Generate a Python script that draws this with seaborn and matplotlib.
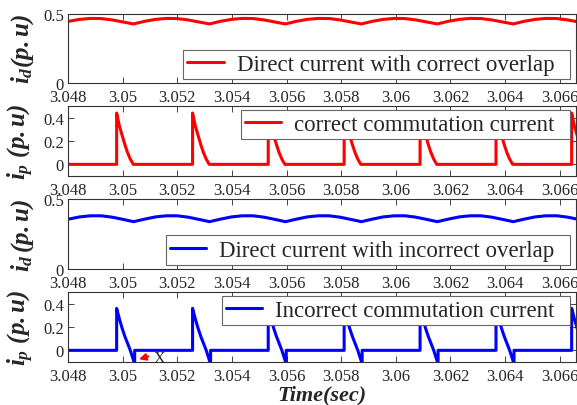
import numpy as np
import matplotlib
matplotlib.use("Agg")
import matplotlib.pyplot as plt
import seaborn as sns

# ---- data ----
x_ticks = [3.048, 3.050, 3.052, 3.054, 3.056, 3.058, 3.060, 3.062, 3.064, 3.066]
x_tick_labels = ["3.048", "3.05", "3.052", "3.054", "3.056", "3.058", "3.06", "3.062", "3.064", "3.066"]

# commutation pulse onsets (s)
pulse_starts = [3.04978, 3.05256, 3.05533, 3.05811, 3.06089, 3.06367, 3.06644]

# one commutation pulse, correct overlap (offset s, p.u)
ok_pulse_dt = [0.0, 0.0, 0.0001, 0.0002, 0.0003, 0.0004, 0.0005, 0.00061]
ok_pulse_v = [0.0, 0.44, 0.33, 0.25, 0.17, 0.10, 0.045, 0.0]

# one commutation pulse, incorrect overlap
bad_pulse_dt = [0.0, 0.0, 0.0001, 0.0002, 0.0003, 0.0004, 0.0005, 0.00063, 0.00066, 0.00066]
bad_pulse_v = [0.0, 0.36, 0.27, 0.19, 0.12, 0.06, 0.0, -0.095, -0.095, 0.0]

# direct current ripple minima (s) and one ripple period
ripple_starts = [3.04762, 3.05040, 3.05318, 3.05596, 3.05874, 3.06152, 3.06430, 3.06708]
ripple_dt = [0.0, 0.0004, 0.0008, 0.0012, 0.0016, 0.0020, 0.0024]
id_ok_v = [0.426, 0.445, 0.459, 0.466, 0.465, 0.455, 0.440]
id_bad_v = [0.338, 0.356, 0.372, 0.380, 0.380, 0.370, 0.354]


def tile(starts, dt, v):
    t, y = [], []
    for s in starts:
        t += [s + d for d in dt]
        y += list(v)
    return np.array(t), np.array(y)


def pulses(starts, dt, v):
    t, y = tile(starts, dt, v)
    return np.r_[3.048, t, 3.0675], np.r_[0.0, y, y[-1]]


t_id1, id1 = tile(ripple_starts, ripple_dt, id_ok_v)
t_ip1, ip1 = pulses(pulse_starts, ok_pulse_dt, ok_pulse_v)
t_id2, id2 = tile(ripple_starts, ripple_dt, id_bad_v)
t_ip2, ip2 = pulses(pulse_starts, bad_pulse_dt, bad_pulse_v)

# ---- style ----
sns.set_style("ticks")
plt.rcParams["font.family"] = ["Liberation Serif", "DejaVu Serif"]
plt.rcParams["mathtext.fontset"] = "custom"
plt.rcParams["mathtext.it"] = "Liberation Serif:italic:bold"
plt.rcParams["mathtext.rm"] = "Liberation Serif:italic:bold"
plt.rcParams["mathtext.bf"] = "Liberation Serif:italic:bold"

fig = plt.figure(figsize=(5.77, 4.06), dpi=100)
left, width = 0.1179, 0.8804
bottoms = [0.7931, 0.5640, 0.3350, 0.1059]
heights = [0.1707, 0.1724, 0.1724, 0.1724]
ax = [fig.add_axes([left, b, width, h]) for b, h in zip(bottoms, heights)]

series = [
    (t_id1, id1, "red", "Direct current with correct overlap", r"$i_d(p.u)$"),
    (t_ip1, ip1, "red", "correct commutation current", r"$i_p\ (p.u)$"),
    (t_id2, id2, "blue", "Direct current with incorrect overlap", r"$i_d\,(p.u)$"),
    (t_ip2, ip2, "blue", "Incorrect commutation current", r"$i_p\ (p.u)$"),
]

for i, (t, y, c, lab, ylab) in enumerate(series):
    a = ax[i]
    sns.lineplot(x=t, y=y, ax=a, color=c, lw=2.2, label=lab + "  ",
                 sort=False, estimator=None)
    a.set_xlim(3.048, 3.0666)
    a.set_xticks(x_ticks)
    a.set_xticklabels(x_tick_labels)
    if i % 2 == 0:
        a.set_ylim(0, 0.5)
        a.set_yticks([0, 0.5])
        a.set_yticklabels(["0", "0.5"])
        loc, anchor = "lower right", (0.988, 0.06)
    else:
        a.set_ylim(-0.1, 0.5)
        a.set_yticks([0, 0.2, 0.4])
        a.set_yticklabels(["0", "0.2", "0.4"])
        loc, anchor = "upper right", (0.988, 0.945)
    a.tick_params(direction="in", length=4, width=0.6, top=True, right=True,
                  labelsize=12)
    a.tick_params(axis="x", pad=4.5)
    a.tick_params(axis="y", pad=3)
    for sp in a.spines.values():
        sp.set_linewidth(0.8)
        sp.set_color("#333333")
    a.set_ylabel(ylab, fontsize=18)
    a.yaxis.set_label_coords(-0.064, 0.5)
    leg = a.legend(loc=loc, bbox_to_anchor=anchor, borderaxespad=0,
                   fancybox=False, framealpha=1, edgecolor="#666666",
                   handlelength=1.6, borderpad=0.18, handletextpad=0.55,
                   prop={"family": "Liberation Serif", "size": 16.5})
    leg.get_frame().set_linewidth(0.8)

ax[3].set_xlabel("Time(sec)", fontsize=16, fontweight="bold", fontstyle="italic", labelpad=0)

# marker for the negative dip
ax[3].annotate("", xy=(3.05050, -0.083), xytext=(3.05104, -0.045),
               arrowprops=dict(arrowstyle="-|>", color="red", lw=1.5, mutation_scale=10))
ax[3].text(3.05136, -0.063, "X", fontsize=11.5, ha="center", va="center")

fig.savefig("out.png", dpi=100)
